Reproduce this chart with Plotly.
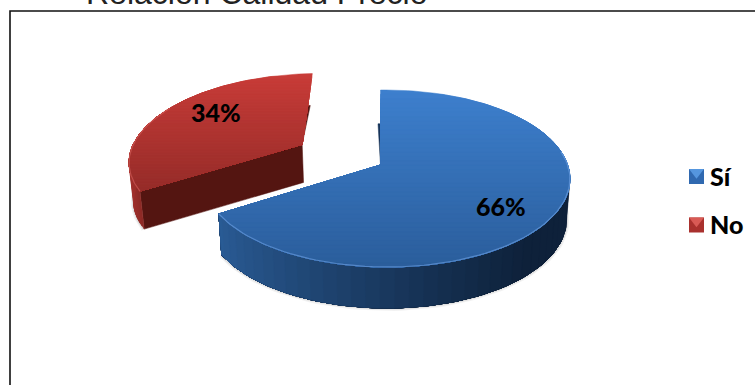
import math
import plotly.graph_objects as go

# Survey result
categories = ["Sí", "No"]
values = [66, 34]
title_text = "Relación Calidad Precio"

top_light = ["#3D7FCD", "#C83C38"]
top_dark = ["#2B5E9C", "#962C29"]
side_left = ["#2A5C96", "#A0302C"]
side_right = ["#0E213A", "#6E1E1B"]
cut_face = ["#17345A", "#541511"]
rim = ["rgba(120,170,235,0.55)", "rgba(225,110,105,0.5)"]
key_body = ["#3069B0", "#A9312E"]
key_light = ["#5596DE", "#D85A55"]
explode = [0.0, 0.52]
radius = [1.0, 1.03]
depth = [41.0, 38.0]

WIDTH, HEIGHT = 755, 385
APEX_X, APEX_Y = 380.5, 165.0
SCALE_X, SCALE_Y = 181.0, 86.4
PERSP_V, PERSP_U = 0.1525, -0.0326


def project(u, v):
    """Perspective view of a point on the unit pie disk."""
    w = 1 + PERSP_V * v + PERSP_U * u
    return APEX_X + SCALE_X * u / w, APEX_Y - SCALE_Y * v / w


def drop(p, d):
    """Same point on the lower face of the pie."""
    return p[0] - (p[0] - 378) * 0.018, p[1] + d


def clip_below(poly, y0):
    out = []
    for i, a in enumerate(poly):
        b = poly[(i + 1) % len(poly)]
        if a[1] >= y0:
            out.append(a)
        if (a[1] >= y0) != (b[1] >= y0):
            t = (y0 - a[1]) / (b[1] - a[1])
            out.append((a[0] + t * (b[0] - a[0]), y0))
    return out


def hex_rgb(c):
    return tuple(int(c[i:i + 2], 16) for i in (1, 3, 5))


def mix(c1, c2, t):
    a, b = hex_rgb(c1), hex_rgb(c2)
    return "rgb(%d,%d,%d)" % tuple(round(x + (y - x) * t) for x, y in zip(a, b))


def add_poly(fig, poly, color):
    xs = [p[0] for p in poly] + [poly[0][0]]
    ys = [p[1] for p in poly] + [poly[0][1]]
    fig.add_trace(go.Scatter(x=xs, y=ys, mode="lines", fill="toself", fillcolor=color,
                             line=dict(width=0.5, color=color), hoverinfo="skip",
                             showlegend=False))


def add_line(fig, pts, color, width):
    fig.add_trace(go.Scatter(x=[p[0] for p in pts], y=[p[1] for p in pts], mode="lines",
                             line=dict(width=width, color=color), hoverinfo="skip",
                             showlegend=False))


fig = go.Figure()
total = sum(values)

# Slices run clockwise from twelve o'clock; the exploded one moves along its mid angle.
start = 0.0
for i, val in enumerate(values):
    sweep = 360.0 * val / total
    mid = math.radians(start + sweep / 2)
    off_u, off_v = explode[i] * math.sin(mid), explode[i] * math.cos(mid)
    r = radius[i]
    d = depth[i]
    n = 120
    angles = [start + sweep * k / n for k in range(n + 1)]
    arc = [project(off_u + r * math.sin(math.radians(a)), off_v + r * math.cos(math.radians(a)))
           for a in angles]
    apex = project(off_u, off_v)
    start += sweep

    # Soft contact shadow under the lower rim
    low = [drop(p, d) for p, a in zip(arc, angles) if 85 <= a <= 300]
    for w, alpha in ((6, 0.05), (3.5, 0.08)):
        add_line(fig, low, "rgba(0,0,0,%.2f)" % alpha, w)

    # Cut faces: the far radius shows only as a sliver beside the upper face
    far_end, near_end = (arc[-1], arc[0]) if i else (arc[0], arc[-1])
    lean = 2.5 if i else -2.5
    edge = (far_end[0] + 0.45 * (apex[0] - far_end[0]), far_end[1] + 0.45 * (apex[1] - far_end[1]))
    add_poly(fig, [edge, (edge[0] + lean, edge[1]), apex], cut_face[i])
    add_poly(fig, [near_end, apex, drop(apex, d), drop(near_end, d)], cut_face[i])

    # Outer wall, shaded from its right end to its left end as nested polygons
    wall = [k for k in range(n + 1) if 80 <= angles[k] <= 300]
    x_left, x_right = min(arc[k][0] for k in wall), max(arc[k][0] for k in wall)
    order = wall if i == 0 else list(reversed(wall))
    for pos in range(0, len(order) - 1, 2):
        rest = order[pos:] if i == 0 else order[:len(order) - pos]
        head = order[pos] if i == 0 else order[len(order) - pos - 1]
        t = (arc[head][0] - x_left) / (x_right - x_left)
        t = min(1.0, t ** 0.85 * 1.1)
        add_poly(fig, [arc[k] for k in rest] + [drop(arc[k], d) for k in reversed(rest)],
                 mix(side_left[i], side_right[i], t))

    # Upper face with a vertical gradient, painted as nested clipped polygons
    poly = [apex] + arc
    ys = [p[1] for p in poly]
    y0, y1 = min(ys), max(ys)
    bands = 40
    for b in range(bands):
        part = clip_below(poly, y0 + (y1 - y0) * b / bands) if b else poly
        if len(part) >= 3:
            add_poly(fig, part, mix(top_light[i], top_dark[i], b / (bands - 1)))

    # Bevel highlight on the front edge
    add_line(fig, [p for p, a in zip(arc, angles) if 80 <= a <= 300], rim[i], 1.2)

# Legend keys: bevelled squares with a lighter upper wedge
legend_y = [176.5, 225]
for i, name in enumerate(categories):
    fig.add_trace(go.Scatter(x=[696.5], y=[legend_y[i]], mode="markers", hoverinfo="skip", showlegend=False,
                             marker=dict(symbol="square", size=15, color=key_body[i], line=dict(width=0))))
    fig.add_trace(go.Scatter(x=[696.5], y=[legend_y[i] - 4.25], mode="markers", hoverinfo="skip", showlegend=False,
                             marker=dict(symbol="triangle-down", size=13, color=key_light[i], line=dict(width=0))))
    fig.add_annotation(x=708, y=legend_y[i] - 1, text=name, showarrow=False, xanchor="left",
                       yanchor="middle", font=dict(family="Lato", size=25, weight=900, color="#000000"))

# Percentage labels
label_pos = [(501, 206), (216, 112)]
for (lx, ly), val in zip(label_pos, values):
    fig.add_annotation(x=lx, y=ly, text="%d%%" % val, showarrow=False,
                       font=dict(family="Lato", size=25, weight=900, color="#000000"))

# Heading, partly above the top of the page
fig.add_annotation(x=257, y=13, text=title_text, showarrow=False, yanchor="bottom",
                   font=dict(family="Liberation Sans", size=32, color="#222222"))

# Frame runs off the right and lower edges
fig.add_shape(type="path", path="M 10 385 L 10 11 L 755 11", line=dict(color="#111111", width=1.6))

fig.update_xaxes(range=[0, WIDTH], visible=False, fixedrange=True)
fig.update_yaxes(range=[HEIGHT, 0], visible=False, fixedrange=True)
fig.update_layout(width=WIDTH, height=HEIGHT, margin=dict(l=0, r=0, t=0, b=0),
                  paper_bgcolor="#FFFFFF", plot_bgcolor="#FFFFFF", showlegend=False)

fig.write_html("out.html", config=dict(displayModeBar=False))
